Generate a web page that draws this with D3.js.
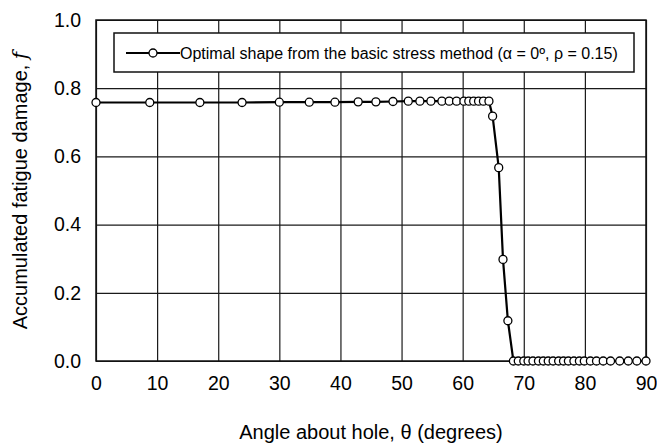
<!DOCTYPE html>
<html>
<head>
<meta charset="utf-8">
<script src="https://cdn.jsdelivr.net/npm/d3@7"></script>
<style>
	body { margin: 0; background: #fff; }
	svg text { font-family: "Liberation Sans", Arial, sans-serif; fill: #000; }
</style>
</head>
<body>
<div class="chart"></div>
<script>
// angle about hole (degrees) and accumulated fatigue damage
var theta = [0, 8.8, 17.0, 23.9, 30.0, 34.9, 39.1, 42.9, 45.8, 48.6, 51.1, 53.0, 54.8, 56.6, 57.8,
	59.0, 60.2, 61.0, 61.8, 62.6, 63.4, 64.3, 64.9, 65.9, 66.6, 67.4,
	68.3, 69.1, 70.0, 70.7, 71.5, 72.4, 73.2, 74.0, 74.8, 75.7, 76.5, 77.3, 78.2, 79.1, 79.9,
	80.9, 81.9, 83.0, 84.2, 85.7, 87.1, 88.5, 90.0];
var damage = [0.758, 0.758, 0.758, 0.758, 0.759, 0.759, 0.759, 0.760, 0.760, 0.761, 0.762, 0.762, 0.762, 0.762, 0.762,
	0.762, 0.762, 0.762, 0.762, 0.762, 0.762, 0.762, 0.718, 0.567, 0.298, 0.118,
	0, 0, 0, 0, 0, 0, 0, 0, 0, 0, 0, 0, 0, 0, 0,
	0, 0, 0, 0, 0, 0, 0, 0];
var xTicks = [0, 10, 20, 30, 40, 50, 60, 70, 80, 90];
var yTicks = [0, 0.2, 0.4, 0.6, 0.8, 1.0];
var legendLabel = "Optimal shape from the basic stress method (\u03b1 = 0\u00ba, \u03c1 = 0.15)";

var margin = {top: 20, right: 11, bottom: 85, left: 96},
	width = 657 - margin.left - margin.right,
	height = 446 - margin.top - margin.bottom;

var svg = d3.select(".chart").append("svg")
	.attr("width", 657)
	.attr("height", 446);

var g = svg.append("g")
	.attr("transform", "translate(" + margin.left + "," + margin.top + ")");

var x = d3.scaleLinear().domain([0, 90]).range([0, width]);
var y = d3.scaleLinear().domain([0, 1]).range([height, 0]);

// axes double as the grid
var xAxis = d3.axisBottom(x).tickValues(xTicks).tickSizeInner(-height).tickSizeOuter(0).tickPadding(15)
	.tickFormat(d3.format("d"));
var yAxis = d3.axisLeft(y).tickValues(yTicks).tickSizeInner(-width).tickSizeOuter(0).tickPadding(15)
	.tickFormat(d3.format(".1f"));

g.append("g").attr("class", "x axis")
	.attr("transform", "translate(0," + height + ")")
	.call(xAxis);
g.append("g").attr("class", "y axis").call(yAxis);

g.selectAll(".axis .domain").remove();
g.selectAll(".axis line").attr("stroke", "#1a1a1a").attr("stroke-width", 1.2);
g.selectAll(".axis text").style("font-size", "19.5px").attr("fill", "#000");

// plot frame
g.append("rect")
	.attr("width", width).attr("height", height)
	.attr("fill", "none").attr("stroke", "#111").attr("stroke-width", 1.5);

// series
var pts = theta.map(function (t, i) { return [t, damage[i]]; });

g.append("path")
	.datum(pts)
	.attr("fill", "none")
	.attr("stroke", "#000")
	.attr("stroke-width", 2.2)
	.attr("d", d3.line().x(function (d) { return x(d[0]); }).y(function (d) { return y(d[1]); }));

g.selectAll("circle.dot").data(pts).enter().append("circle")
	.attr("class", "dot")
	.attr("cx", function (d) { return x(d[0]); })
	.attr("cy", function (d) { return y(d[1]); })
	.attr("r", 4)
	.attr("fill", "#fff")
	.attr("stroke", "#000")
	.attr("stroke-width", 1.3);

// legend
var legend = svg.append("g").attr("transform", "translate(114,33)");
legend.append("rect")
	.attr("width", 520).attr("height", 39)
	.attr("fill", "#fff").attr("stroke", "#111").attr("stroke-width", 1.5);
legend.append("line")
	.attr("x1", 12).attr("x2", 66).attr("y1", 20).attr("y2", 20)
	.attr("stroke", "#000").attr("stroke-width", 2.2);
legend.append("circle")
	.attr("cx", 39).attr("cy", 20).attr("r", 4)
	.attr("fill", "#fff").attr("stroke", "#000").attr("stroke-width", 1.3);
legend.append("text")
	.attr("x", 66).attr("y", 25.5)
	.style("font-size", "16px")
	.text(legendLabel);

// axis titles
svg.append("text")
	.attr("text-anchor", "middle")
	.attr("x", margin.left + width / 2)
	.attr("y", 439)
	.style("font-size", "20px")
	.text("Angle about hole, \u03b8 (degrees)");

var yTitle = svg.append("text")
	.attr("text-anchor", "middle")
	.attr("transform", "translate(27," + (margin.top + height / 2) + ") rotate(-90)")
	.style("font-size", "20px");
yTitle.append("tspan").text("Accumulated fatigue damage, ");
yTitle.append("tspan").style("font-style", "italic").style("font-family", "\"DejaVu Serif\", serif").text("f");
</script>
</body>
</html>
